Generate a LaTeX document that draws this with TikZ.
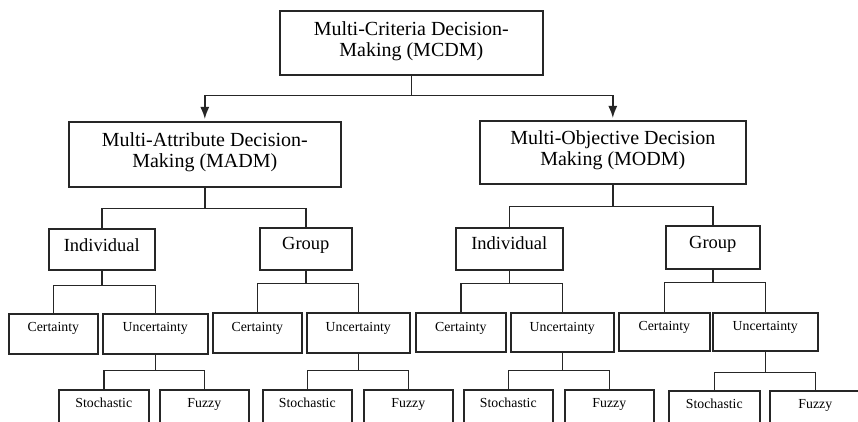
\documentclass[tikz,border=0pt]{standalone}
\usepackage{fontspec}
\setmainfont{Liberation Serif}
\usepackage{tikz}
\usetikzlibrary{arrows.meta}

\tikzset{
	box/.style n args={3}{draw=black!85, line width=1.6pt, inner sep=0pt, anchor=north west, align=center, minimum width=#1, text height=#2, text depth=#3},
	link/.style={draw=black!85, line width=1.6pt},
	bigtext/.style={font=\fontsize{20}{21}\selectfont},
	midtext/.style={font=\fontsize{18.5}{20}\selectfont},
	smalltext/.style={font=\fontsize{13.8}{16}\selectfont},
}

\begin{document}
\begin{tikzpicture}[x=1pt, y=-1pt]
			%%%%% START %%%%%
			\useasboundingbox[fill=white] (0, 0) rectangle (858, 422);
			
			\node[box={263pt}{46pt}{18pt}, bigtext] (mcdm) at (279, 10) {Multi-Criteria Decision-\\Making (MCDM)};
			
			\node[box={272pt}{46pt}{19pt}, bigtext] (madm) at (68, 121) {Multi-Attribute Decision-\\Making (MADM)};
			\node[box={266pt}{45pt}{18pt}, bigtext] (modm) at (479, 120) {Multi-Objective Decision\\Making (MODM)};
			
			\draw[link, -{Latex[length=12pt, width=9pt]}, shorten >=2pt] (mcdm.south) -- ++(0, 20) -| (madm.north);
			\draw[link, -{Latex[length=12pt, width=9pt]}, shorten >=2pt] (mcdm.south) -- ++(0, 20) -| (modm.north);
			
			\node[box={106pt}{23pt}{18pt}, midtext] (ind1) at (48, 228) {Individual};
			\node[box={92pt}{22pt}{20pt}, midtext] (grp1) at (259, 227) {Group};
			\node[box={107pt}{22pt}{20pt}, midtext] (ind2) at (455, 227) {Individual};
			\node[box={94pt}{23pt}{20pt}, midtext] (grp2) at (665, 225) {Group};
			
			\draw[link] (madm.south) -- ++(0, 21) -| (ind1.north);
			\draw[link] (madm.south) -- ++(0, 21) -| (grp1.north);
			\draw[link] (modm.south) -- ++(0, 22) -| (ind2.north);
			\draw[link] (modm.south) -- ++(0, 22) -| (grp2.north);
			
			\node[box={89pt}{18pt}{22pt}, smalltext] (cer1) at (8, 313) {Certainty};
			\node[box={105pt}{18pt}{22pt}, smalltext] (unc1) at (102, 313) {Uncertainty};
			\node[box={89pt}{19pt}{21pt}, smalltext] (cer2) at (212, 312) {Certainty};
			\node[box={103pt}{19pt}{21pt}, smalltext] (unc2) at (306, 312) {Uncertainty};
			\node[box={90pt}{19pt}{20pt}, smalltext] (cer3) at (415, 312) {Certainty};
			\node[box={103pt}{19pt}{20pt}, smalltext] (unc3) at (510, 312) {Uncertainty};
			\node[box={91pt}{18pt}{20pt}, smalltext] (cer4) at (618, 312) {Certainty};
			\node[box={105pt}{18pt}{20pt}, smalltext] (unc4) at (712, 312) {Uncertainty};
			
			\draw[link] (ind1.south) -- ++(0, 15) -| (cer1.north);
			\draw[link] (ind1.south) -- ++(0, 15) -| (unc1.north);
			\draw[link] (grp1.south) -- ++(0, 13) -| (cer2.north);
			\draw[link] (grp1.south) -- ++(0, 13) -| (unc2.north);
			\draw[link] (ind2.south) -- ++(0, 13) -| (cer3.north);
			\draw[link] (ind2.south) -- ++(0, 13) -| (unc3.north);
			\draw[link] (grp2.south) -- ++(0, 13) -| (cer4.north);
			\draw[link] (grp2.south) -- ++(0, 13) -| (unc4.north);
			
			\node[box={90pt}{18pt}{22pt}, smalltext] (sto1) at (58, 389) {Stochastic};
			\node[box={89pt}{18pt}{22pt}, smalltext] (fuz1) at (159, 389) {Fuzzy};
			\node[box={89pt}{18pt}{22pt}, smalltext] (sto2) at (262, 389) {Stochastic};
			\node[box={89pt}{18pt}{22pt}, smalltext] (fuz2) at (363, 389) {Fuzzy};
			\node[box={89pt}{18pt}{22pt}, smalltext] (sto3) at (463, 389) {Stochastic};
			\node[box={89pt}{18pt}{22pt}, smalltext] (fuz3) at (564, 389) {Fuzzy};
			\node[box={91pt}{18pt}{22pt}, smalltext] (sto4) at (668, 390) {Stochastic};
			\node[box={91pt}{18pt}{22pt}, smalltext] (fuz4) at (769, 390) {Fuzzy};
			
			\draw[link] (unc1.south) -- ++(0, 16) -| (sto1.north);
			\draw[link] (unc1.south) -- ++(0, 16) -| (fuz1.north);
			\draw[link] (unc2.south) -- ++(0, 17) -| (sto2.north);
			\draw[link] (unc2.south) -- ++(0, 17) -| (fuz2.north);
			\draw[link] (unc3.south) -- ++(0, 18) -| (sto3.north);
			\draw[link] (unc3.south) -- ++(0, 18) -| (fuz3.north);
			\draw[link] (unc4.south) -- ++(0, 21) -| (sto4.north);
			\draw[link] (unc4.south) -- ++(0, 21) -| (fuz4.north);
			
			%%%%% END %%%%%
\end{tikzpicture}
\end{document}
